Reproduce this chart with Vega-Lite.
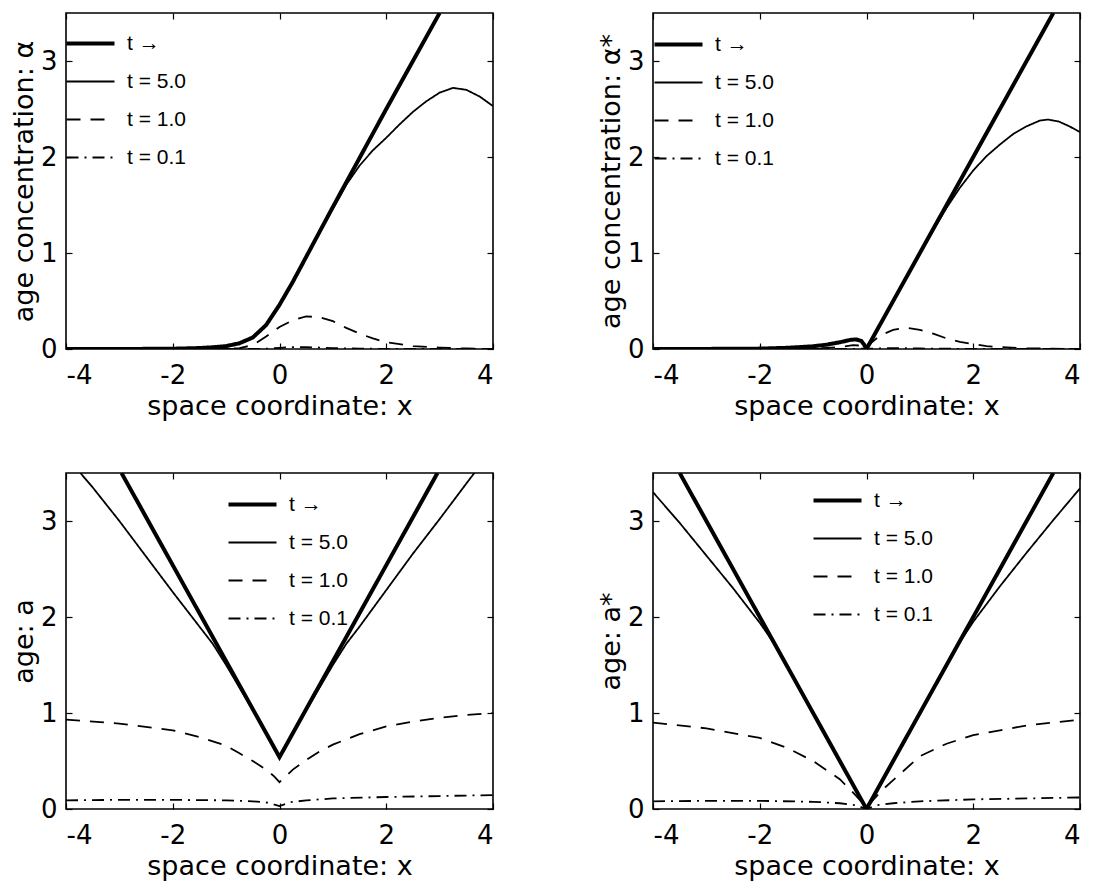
{
  "$schema": "https://vega.github.io/schema/vega-lite/v6.json",
  "background": "white",
  "padding": {"left": 9, "top": 9, "right": 5, "bottom": 5},
  "config": {
    "font": "DejaVu Sans",
    "view": {"stroke": "black", "strokeWidth": 1.6},
    "axis": {
      "labelFont": "DejaVu Sans", "labelFontSize": 26, "labelColor": "black",
      "titleFont": "DejaVu Sans", "titleFontSize": 27, "titleFontWeight": "normal", "titleColor": "black",
      "domain": false, "grid": false, "tickColor": "black", "tickSize": -6, "tickWidth": 1.2
    },
    "axisX": {"labelPadding": 19, "titlePadding": 5},
    "axisY": {"labelPadding": 15, "titlePadding": 2},
    "legend": {
      "orient": "none", "title": null, "symbolType": "stroke", "symbolSize": 2304,
      "symbolStrokeColor": "black", "labelFont": "Liberation Sans", "labelFontSize": 21,
      "labelColor": "black", "labelOffset": 26, "rowPadding": 16, "padding": 0
    }
  },
  "data": {"values": [
    {"p":"A","s":"t →","x":-4,"y":0},{"p":"A","s":"t →","x":-3,"y":0},{"p":"A","s":"t →","x":-2,"y":0.003},{"p":"A","s":"t →","x":-1.5,"y":0.01},{"p":"A","s":"t →","x":-1.25,"y":0.018},{"p":"A","s":"t →","x":-1,"y":0.03},{"p":"A","s":"t →","x":-0.75,"y":0.06},{"p":"A","s":"t →","x":-0.5,"y":0.12},{"p":"A","s":"t →","x":-0.25,"y":0.25},{"p":"A","s":"t →","x":0,"y":0.46},{"p":"A","s":"t →","x":0.25,"y":0.7},{"p":"A","s":"t →","x":0.5,"y":0.96},{"p":"A","s":"t →","x":0.75,"y":1.22},{"p":"A","s":"t →","x":1,"y":1.48},{"p":"A","s":"t →","x":1.5,"y":1.99},{"p":"A","s":"t →","x":2,"y":2.5},{"p":"A","s":"t →","x":2.5,"y":3.0},{"p":"A","s":"t →","x":3,"y":3.5},
    {"p":"A","s":"t = 5.0","x":-4,"y":0},{"p":"A","s":"t = 5.0","x":-3,"y":0},{"p":"A","s":"t = 5.0","x":-2,"y":0.003},{"p":"A","s":"t = 5.0","x":-1.5,"y":0.01},{"p":"A","s":"t = 5.0","x":-1.25,"y":0.018},{"p":"A","s":"t = 5.0","x":-1,"y":0.03},{"p":"A","s":"t = 5.0","x":-0.75,"y":0.06},{"p":"A","s":"t = 5.0","x":-0.5,"y":0.12},{"p":"A","s":"t = 5.0","x":-0.25,"y":0.25},{"p":"A","s":"t = 5.0","x":0,"y":0.46},{"p":"A","s":"t = 5.0","x":0.25,"y":0.7},{"p":"A","s":"t = 5.0","x":0.5,"y":0.96},{"p":"A","s":"t = 5.0","x":0.75,"y":1.21},{"p":"A","s":"t = 5.0","x":1,"y":1.46},{"p":"A","s":"t = 5.0","x":1.25,"y":1.71},{"p":"A","s":"t = 5.0","x":1.5,"y":1.91},{"p":"A","s":"t = 5.0","x":1.75,"y":2.07},{"p":"A","s":"t = 5.0","x":2,"y":2.2},{"p":"A","s":"t = 5.0","x":2.25,"y":2.34},{"p":"A","s":"t = 5.0","x":2.5,"y":2.47},{"p":"A","s":"t = 5.0","x":2.75,"y":2.58},{"p":"A","s":"t = 5.0","x":3,"y":2.67},{"p":"A","s":"t = 5.0","x":3.25,"y":2.72},{"p":"A","s":"t = 5.0","x":3.5,"y":2.7},{"p":"A","s":"t = 5.0","x":3.75,"y":2.63},{"p":"A","s":"t = 5.0","x":4,"y":2.53},
    {"p":"A","s":"t = 1.0","x":-4,"y":0},{"p":"A","s":"t = 1.0","x":-1,"y":0},{"p":"A","s":"t = 1.0","x":-0.75,"y":0.01},{"p":"A","s":"t = 1.0","x":-0.5,"y":0.04},{"p":"A","s":"t = 1.0","x":-0.25,"y":0.13},{"p":"A","s":"t = 1.0","x":0,"y":0.23},{"p":"A","s":"t = 1.0","x":0.25,"y":0.3},{"p":"A","s":"t = 1.0","x":0.5,"y":0.34},{"p":"A","s":"t = 1.0","x":0.75,"y":0.33},{"p":"A","s":"t = 1.0","x":1,"y":0.29},{"p":"A","s":"t = 1.0","x":1.25,"y":0.22},{"p":"A","s":"t = 1.0","x":1.5,"y":0.16},{"p":"A","s":"t = 1.0","x":1.75,"y":0.11},{"p":"A","s":"t = 1.0","x":2,"y":0.07},{"p":"A","s":"t = 1.0","x":2.25,"y":0.05},{"p":"A","s":"t = 1.0","x":2.5,"y":0.03},{"p":"A","s":"t = 1.0","x":3,"y":0.015},{"p":"A","s":"t = 1.0","x":3.5,"y":0.005},{"p":"A","s":"t = 1.0","x":4,"y":0},
    {"p":"A","s":"t = 0.1","x":-4,"y":0},{"p":"A","s":"t = 0.1","x":-0.5,"y":0},{"p":"A","s":"t = 0.1","x":-0.25,"y":0.003},{"p":"A","s":"t = 0.1","x":0,"y":0.012},{"p":"A","s":"t = 0.1","x":0.25,"y":0.02},{"p":"A","s":"t = 0.1","x":0.5,"y":0.02},{"p":"A","s":"t = 0.1","x":0.75,"y":0.015},{"p":"A","s":"t = 0.1","x":1,"y":0.01},{"p":"A","s":"t = 0.1","x":1.5,"y":0.004},{"p":"A","s":"t = 0.1","x":2,"y":0.001},{"p":"A","s":"t = 0.1","x":4,"y":0},

    {"p":"B","s":"t →","x":-4,"y":0},{"p":"B","s":"t →","x":-3,"y":0.001},{"p":"B","s":"t →","x":-2,"y":0.004},{"p":"B","s":"t →","x":-1.5,"y":0.012},{"p":"B","s":"t →","x":-1,"y":0.028},{"p":"B","s":"t →","x":-0.75,"y":0.045},{"p":"B","s":"t →","x":-0.5,"y":0.07},{"p":"B","s":"t →","x":-0.3,"y":0.095},{"p":"B","s":"t →","x":-0.2,"y":0.1},{"p":"B","s":"t →","x":-0.1,"y":0.085},{"p":"B","s":"t →","x":-0.05,"y":0.05},{"p":"B","s":"t →","x":0,"y":0},{"p":"B","s":"t →","x":0.5,"y":0.5},{"p":"B","s":"t →","x":1,"y":1},{"p":"B","s":"t →","x":2,"y":2},{"p":"B","s":"t →","x":3,"y":3},{"p":"B","s":"t →","x":3.5,"y":3.5},
    {"p":"B","s":"t = 5.0","x":-4,"y":0},{"p":"B","s":"t = 5.0","x":-3,"y":0.001},{"p":"B","s":"t = 5.0","x":-2,"y":0.004},{"p":"B","s":"t = 5.0","x":-1.5,"y":0.012},{"p":"B","s":"t = 5.0","x":-1,"y":0.028},{"p":"B","s":"t = 5.0","x":-0.75,"y":0.045},{"p":"B","s":"t = 5.0","x":-0.5,"y":0.07},{"p":"B","s":"t = 5.0","x":-0.3,"y":0.093},{"p":"B","s":"t = 5.0","x":-0.2,"y":0.098},{"p":"B","s":"t = 5.0","x":-0.1,"y":0.083},{"p":"B","s":"t = 5.0","x":-0.05,"y":0.05},{"p":"B","s":"t = 5.0","x":0,"y":0},{"p":"B","s":"t = 5.0","x":0.5,"y":0.5},{"p":"B","s":"t = 5.0","x":1,"y":1},{"p":"B","s":"t = 5.0","x":1.25,"y":1.24},{"p":"B","s":"t = 5.0","x":1.5,"y":1.47},{"p":"B","s":"t = 5.0","x":1.75,"y":1.68},{"p":"B","s":"t = 5.0","x":2,"y":1.86},{"p":"B","s":"t = 5.0","x":2.25,"y":2.01},{"p":"B","s":"t = 5.0","x":2.5,"y":2.13},{"p":"B","s":"t = 5.0","x":2.75,"y":2.24},{"p":"B","s":"t = 5.0","x":3,"y":2.32},{"p":"B","s":"t = 5.0","x":3.25,"y":2.38},{"p":"B","s":"t = 5.0","x":3.4,"y":2.39},{"p":"B","s":"t = 5.0","x":3.6,"y":2.37},{"p":"B","s":"t = 5.0","x":3.8,"y":2.32},{"p":"B","s":"t = 5.0","x":4,"y":2.26},
    {"p":"B","s":"t = 1.0","x":-4,"y":0},{"p":"B","s":"t = 1.0","x":-1,"y":0.005},{"p":"B","s":"t = 1.0","x":-0.5,"y":0.02},{"p":"B","s":"t = 1.0","x":-0.25,"y":0.04},{"p":"B","s":"t = 1.0","x":-0.1,"y":0.035},{"p":"B","s":"t = 1.0","x":0,"y":0},{"p":"B","s":"t = 1.0","x":0.1,"y":0.07},{"p":"B","s":"t = 1.0","x":0.25,"y":0.14},{"p":"B","s":"t = 1.0","x":0.5,"y":0.2},{"p":"B","s":"t = 1.0","x":0.75,"y":0.22},{"p":"B","s":"t = 1.0","x":1,"y":0.2},{"p":"B","s":"t = 1.0","x":1.25,"y":0.16},{"p":"B","s":"t = 1.0","x":1.5,"y":0.11},{"p":"B","s":"t = 1.0","x":1.75,"y":0.075},{"p":"B","s":"t = 1.0","x":2,"y":0.05},{"p":"B","s":"t = 1.0","x":2.25,"y":0.03},{"p":"B","s":"t = 1.0","x":2.5,"y":0.02},{"p":"B","s":"t = 1.0","x":3,"y":0.008},{"p":"B","s":"t = 1.0","x":4,"y":0},
    {"p":"B","s":"t = 0.1","x":-4,"y":0},{"p":"B","s":"t = 0.1","x":-0.5,"y":0},{"p":"B","s":"t = 0.1","x":0,"y":0.003},{"p":"B","s":"t = 0.1","x":0.5,"y":0.01},{"p":"B","s":"t = 0.1","x":1,"y":0.005},{"p":"B","s":"t = 0.1","x":2,"y":0.001},{"p":"B","s":"t = 0.1","x":4,"y":0},

    {"p":"C","s":"t →","x":-2.96,"y":3.5},{"p":"C","s":"t →","x":-2,"y":2.54},{"p":"C","s":"t →","x":-1,"y":1.54},{"p":"C","s":"t →","x":0,"y":0.54},{"p":"C","s":"t →","x":1,"y":1.54},{"p":"C","s":"t →","x":2,"y":2.54},{"p":"C","s":"t →","x":2.96,"y":3.5},
    {"p":"C","s":"t = 5.0","x":-3.73,"y":3.5},{"p":"C","s":"t = 5.0","x":-3.5,"y":3.35},{"p":"C","s":"t = 5.0","x":-3,"y":3.0},{"p":"C","s":"t = 5.0","x":-2.5,"y":2.63},{"p":"C","s":"t = 5.0","x":-2,"y":2.26},{"p":"C","s":"t = 5.0","x":-1.5,"y":1.9},{"p":"C","s":"t = 5.0","x":-1.25,"y":1.72},{"p":"C","s":"t = 5.0","x":-1,"y":1.5},{"p":"C","s":"t = 5.0","x":-0.5,"y":1.03},{"p":"C","s":"t = 5.0","x":0,"y":0.54},{"p":"C","s":"t = 5.0","x":0.5,"y":1.03},{"p":"C","s":"t = 5.0","x":1,"y":1.5},{"p":"C","s":"t = 5.0","x":1.25,"y":1.72},{"p":"C","s":"t = 5.0","x":1.5,"y":1.9},{"p":"C","s":"t = 5.0","x":2,"y":2.28},{"p":"C","s":"t = 5.0","x":2.5,"y":2.66},{"p":"C","s":"t = 5.0","x":3,"y":3.02},{"p":"C","s":"t = 5.0","x":3.5,"y":3.39},{"p":"C","s":"t = 5.0","x":3.65,"y":3.5},
    {"p":"C","s":"t = 1.0","x":-4,"y":0.93},{"p":"C","s":"t = 1.0","x":-3,"y":0.89},{"p":"C","s":"t = 1.0","x":-2,"y":0.82},{"p":"C","s":"t = 1.0","x":-1.5,"y":0.75},{"p":"C","s":"t = 1.0","x":-1,"y":0.66},{"p":"C","s":"t = 1.0","x":-0.75,"y":0.58},{"p":"C","s":"t = 1.0","x":-0.5,"y":0.5},{"p":"C","s":"t = 1.0","x":-0.25,"y":0.41},{"p":"C","s":"t = 1.0","x":-0.1,"y":0.34},{"p":"C","s":"t = 1.0","x":0,"y":0.28},{"p":"C","s":"t = 1.0","x":0.1,"y":0.33},{"p":"C","s":"t = 1.0","x":0.25,"y":0.41},{"p":"C","s":"t = 1.0","x":0.5,"y":0.51},{"p":"C","s":"t = 1.0","x":0.75,"y":0.6},{"p":"C","s":"t = 1.0","x":1,"y":0.67},{"p":"C","s":"t = 1.0","x":1.5,"y":0.78},{"p":"C","s":"t = 1.0","x":2,"y":0.86},{"p":"C","s":"t = 1.0","x":2.5,"y":0.91},{"p":"C","s":"t = 1.0","x":3,"y":0.95},{"p":"C","s":"t = 1.0","x":3.5,"y":0.98},{"p":"C","s":"t = 1.0","x":4,"y":1.0},
    {"p":"C","s":"t = 0.1","x":-4,"y":0.09},{"p":"C","s":"t = 0.1","x":-3,"y":0.095},{"p":"C","s":"t = 0.1","x":-2,"y":0.095},{"p":"C","s":"t = 0.1","x":-1,"y":0.09},{"p":"C","s":"t = 0.1","x":-0.5,"y":0.08},{"p":"C","s":"t = 0.1","x":-0.2,"y":0.065},{"p":"C","s":"t = 0.1","x":0,"y":0.03},{"p":"C","s":"t = 0.1","x":0.2,"y":0.07},{"p":"C","s":"t = 0.1","x":0.5,"y":0.09},{"p":"C","s":"t = 0.1","x":1,"y":0.11},{"p":"C","s":"t = 0.1","x":2,"y":0.125},{"p":"C","s":"t = 0.1","x":3,"y":0.135},{"p":"C","s":"t = 0.1","x":4,"y":0.145},

    {"p":"D","s":"t →","x":-3.5,"y":3.5},{"p":"D","s":"t →","x":-3,"y":3},{"p":"D","s":"t →","x":-2,"y":2},{"p":"D","s":"t →","x":-1,"y":1},{"p":"D","s":"t →","x":0,"y":0},{"p":"D","s":"t →","x":1,"y":1},{"p":"D","s":"t →","x":2,"y":2},{"p":"D","s":"t →","x":3,"y":3},{"p":"D","s":"t →","x":3.5,"y":3.5},
    {"p":"D","s":"t = 5.0","x":-4,"y":3.3},{"p":"D","s":"t = 5.0","x":-3.5,"y":2.98},{"p":"D","s":"t = 5.0","x":-3,"y":2.64},{"p":"D","s":"t = 5.0","x":-2.5,"y":2.3},{"p":"D","s":"t = 5.0","x":-2,"y":1.94},{"p":"D","s":"t = 5.0","x":-1.75,"y":1.74},{"p":"D","s":"t = 5.0","x":-1.5,"y":1.5},{"p":"D","s":"t = 5.0","x":-1,"y":1},{"p":"D","s":"t = 5.0","x":0,"y":0},{"p":"D","s":"t = 5.0","x":1,"y":1},{"p":"D","s":"t = 5.0","x":1.5,"y":1.5},{"p":"D","s":"t = 5.0","x":1.75,"y":1.74},{"p":"D","s":"t = 5.0","x":2,"y":1.95},{"p":"D","s":"t = 5.0","x":2.5,"y":2.32},{"p":"D","s":"t = 5.0","x":3,"y":2.67},{"p":"D","s":"t = 5.0","x":3.5,"y":3.01},{"p":"D","s":"t = 5.0","x":4,"y":3.34},
    {"p":"D","s":"t = 1.0","x":-4,"y":0.9},{"p":"D","s":"t = 1.0","x":-3,"y":0.84},{"p":"D","s":"t = 1.0","x":-2,"y":0.74},{"p":"D","s":"t = 1.0","x":-1.5,"y":0.64},{"p":"D","s":"t = 1.0","x":-1,"y":0.5},{"p":"D","s":"t = 1.0","x":-0.5,"y":0.31},{"p":"D","s":"t = 1.0","x":-0.25,"y":0.17},{"p":"D","s":"t = 1.0","x":-0.1,"y":0.08},{"p":"D","s":"t = 1.0","x":0,"y":0.02},{"p":"D","s":"t = 1.0","x":0.1,"y":0.08},{"p":"D","s":"t = 1.0","x":0.3,"y":0.2},{"p":"D","s":"t = 1.0","x":0.5,"y":0.3},{"p":"D","s":"t = 1.0","x":1,"y":0.55},{"p":"D","s":"t = 1.0","x":1.5,"y":0.68},{"p":"D","s":"t = 1.0","x":2,"y":0.77},{"p":"D","s":"t = 1.0","x":2.5,"y":0.82},{"p":"D","s":"t = 1.0","x":3,"y":0.87},{"p":"D","s":"t = 1.0","x":3.5,"y":0.9},{"p":"D","s":"t = 1.0","x":4,"y":0.93},
    {"p":"D","s":"t = 0.1","x":-4,"y":0.08},{"p":"D","s":"t = 0.1","x":-3,"y":0.085},{"p":"D","s":"t = 0.1","x":-2,"y":0.085},{"p":"D","s":"t = 0.1","x":-1,"y":0.075},{"p":"D","s":"t = 0.1","x":-0.5,"y":0.06},{"p":"D","s":"t = 0.1","x":-0.2,"y":0.04},{"p":"D","s":"t = 0.1","x":0,"y":0.0},{"p":"D","s":"t = 0.1","x":0.2,"y":0.04},{"p":"D","s":"t = 0.1","x":0.5,"y":0.06},{"p":"D","s":"t = 0.1","x":1,"y":0.08},{"p":"D","s":"t = 0.1","x":2,"y":0.1},{"p":"D","s":"t = 0.1","x":3,"y":0.11},{"p":"D","s":"t = 0.1","x":4,"y":0.12}
  ]},
  "resolve": {"scale": {"strokeDash": "independent"}, "legend": {"strokeDash": "independent"}},
  "spacing": 49,
  "vconcat": [
    {
      "spacing": 99,
      "resolve": {"scale": {"strokeDash": "independent"}, "legend": {"strokeDash": "independent"}},
      "hconcat": [
        {
          "width": 427, "height": 336,
          "transform": [{"filter": "datum.p == 'A'"}],
          "layer": [
            {
              "mark": {"type": "line", "clip": true, "color": "black"},
              "encoding": {
                "x": {"field": "x", "type": "quantitative", "scale": {"domain": [-4, 4], "nice": false}, "axis": {"title": "space coordinate: x", "values": [-4, -2, 0, 2, 4], "labelExpr": "replace(datum.label, '−', '-')"}},
                "y": {"field": "y", "type": "quantitative", "scale": {"domain": [0, 3.5], "nice": false}, "axis": {"title": "age concentration: α", "values": [0, 1, 2, 3]}},
                "strokeDash": {"field": "s", "type": "nominal", "scale": {"domain": ["t →", "t = 5.0", "t = 1.0", "t = 0.1"], "range": [[1, 0], [1, 0], [14, 10], [12, 6, 2, 6]]},
                  "legend": {"legendX": 14, "legendY": 20, "encode": {"symbols": {"update": {"strokeWidth": {"signal": "datum.value === 't →' ? 4 : 1.8"}}}}}},
                "strokeWidth": {"condition": {"test": "datum.s === 't →'", "value": 4}, "value": 1.8}
              }
            },
            {
              "mark": {"type": "point", "opacity": 0},
              "encoding": {
                "x": {"field": "x", "type": "quantitative", "axis": {"labels": false, "title": null, "values": [-4, -2, 0, 2, 4]}},
                "y": {"field": "y", "type": "quantitative", "axis": {"labels": false, "title": null, "values": [0, 1, 2, 3]}}
              }
            }
          ],
          "resolve": {"axis": {"x": "independent", "y": "independent"}}
        },
        {
          "width": 427, "height": 336,
          "transform": [{"filter": "datum.p == 'B'"}],
          "layer": [
            {
              "mark": {"type": "line", "clip": true, "color": "black"},
              "encoding": {
                "x": {"field": "x", "type": "quantitative", "scale": {"domain": [-4, 4], "nice": false}, "axis": {"title": "space coordinate: x", "values": [-4, -2, 0, 2, 4], "labelExpr": "replace(datum.label, '−', '-')"}},
                "y": {"field": "y", "type": "quantitative", "scale": {"domain": [0, 3.5], "nice": false}, "axis": {"title": "age concentration: α*", "values": [0, 1, 2, 3]}},
                "strokeDash": {"field": "s", "type": "nominal", "scale": {"domain": ["t →", "t = 5.0", "t = 1.0", "t = 0.1"], "range": [[1, 0], [1, 0], [14, 10], [12, 6, 2, 6]]},
                  "legend": {"legendX": 15, "legendY": 21, "encode": {"symbols": {"update": {"strokeWidth": {"signal": "datum.value === 't →' ? 4 : 1.8"}}}}}},
                "strokeWidth": {"condition": {"test": "datum.s === 't →'", "value": 4}, "value": 1.8}
              }
            },
            {
              "mark": {"type": "point", "opacity": 0},
              "encoding": {
                "x": {"field": "x", "type": "quantitative", "axis": {"labels": false, "title": null, "values": [-4, -2, 0, 2, 4]}},
                "y": {"field": "y", "type": "quantitative", "axis": {"labels": false, "title": null, "values": [0, 1, 2, 3]}}
              }
            }
          ],
          "resolve": {"axis": {"x": "independent", "y": "independent"}}
        }
      ]
    },
    {
      "spacing": 99,
      "resolve": {"scale": {"strokeDash": "independent"}, "legend": {"strokeDash": "independent"}},
      "hconcat": [
        {
          "width": 427, "height": 336,
          "transform": [{"filter": "datum.p == 'C'"}],
          "layer": [
            {
              "mark": {"type": "line", "clip": true, "color": "black"},
              "encoding": {
                "x": {"field": "x", "type": "quantitative", "scale": {"domain": [-4, 4], "nice": false}, "axis": {"title": "space coordinate: x", "values": [-4, -2, 0, 2, 4], "labelExpr": "replace(datum.label, '−', '-')"}},
                "y": {"field": "y", "type": "quantitative", "scale": {"domain": [0, 3.5], "nice": false}, "axis": {"title": "age: a", "values": [0, 1, 2, 3]}},
                "strokeDash": {"field": "s", "type": "nominal", "scale": {"domain": ["t →", "t = 5.0", "t = 1.0", "t = 0.1"], "range": [[1, 0], [1, 0], [14, 10], [12, 6, 2, 6]]},
                  "legend": {"legendX": 176, "legendY": 21, "encode": {"symbols": {"update": {"strokeWidth": {"signal": "datum.value === 't →' ? 4 : 1.8"}}}}}},
                "strokeWidth": {"condition": {"test": "datum.s === 't →'", "value": 4}, "value": 1.8}
              }
            },
            {
              "mark": {"type": "point", "opacity": 0},
              "encoding": {
                "x": {"field": "x", "type": "quantitative", "axis": {"labels": false, "title": null, "values": [-4, -2, 0, 2, 4]}},
                "y": {"field": "y", "type": "quantitative", "axis": {"labels": false, "title": null, "values": [0, 1, 2, 3]}}
              }
            }
          ],
          "resolve": {"axis": {"x": "independent", "y": "independent"}}
        },
        {
          "width": 427, "height": 336,
          "transform": [{"filter": "datum.p == 'D'"}],
          "layer": [
            {
              "mark": {"type": "line", "clip": true, "color": "black"},
              "encoding": {
                "x": {"field": "x", "type": "quantitative", "scale": {"domain": [-4, 4], "nice": false}, "axis": {"title": "space coordinate: x", "values": [-4, -2, 0, 2, 4], "labelExpr": "replace(datum.label, '−', '-')"}},
                "y": {"field": "y", "type": "quantitative", "scale": {"domain": [0, 3.5], "nice": false}, "axis": {"title": "age: a*", "values": [0, 1, 2, 3]}},
                "strokeDash": {"field": "s", "type": "nominal", "scale": {"domain": ["t →", "t = 5.0", "t = 1.0", "t = 0.1"], "range": [[1, 0], [1, 0], [14, 10], [12, 6, 2, 6]]},
                  "legend": {"legendX": 174, "legendY": 17, "encode": {"symbols": {"update": {"strokeWidth": {"signal": "datum.value === 't →' ? 4 : 1.8"}}}}}},
                "strokeWidth": {"condition": {"test": "datum.s === 't →'", "value": 4}, "value": 1.8}
              }
            },
            {
              "mark": {"type": "point", "opacity": 0},
              "encoding": {
                "x": {"field": "x", "type": "quantitative", "axis": {"labels": false, "title": null, "values": [-4, -2, 0, 2, 4]}},
                "y": {"field": "y", "type": "quantitative", "axis": {"labels": false, "title": null, "values": [0, 1, 2, 3]}}
              }
            }
          ],
          "resolve": {"axis": {"x": "independent", "y": "independent"}}
        }
      ]
    }
  ]
}
